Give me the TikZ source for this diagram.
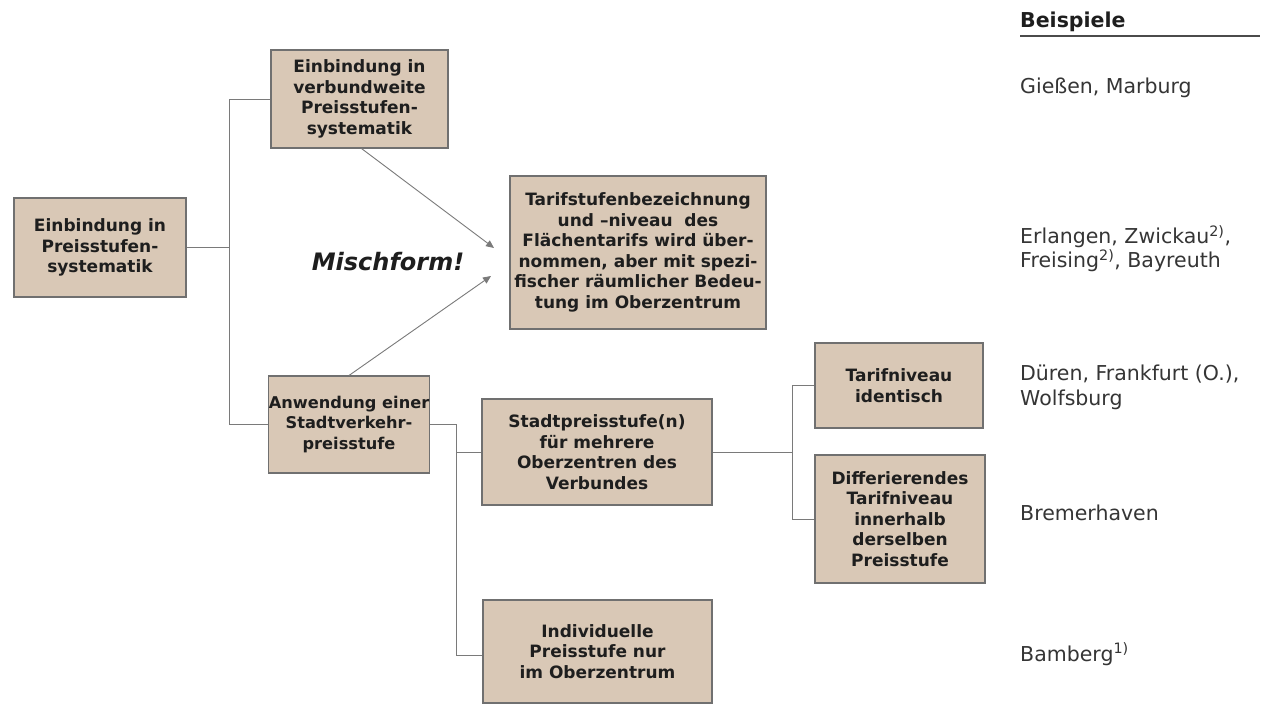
\documentclass[tikz,border=0pt]{standalone}
\usepackage{fontspec}
\setmainfont{DejaVu Sans}
\usetikzlibrary{arrows.meta,calc}
\definecolor{boxfill}{HTML}{D9C8B6}
\definecolor{boxline}{HTML}{707070}
\definecolor{conn}{HTML}{7A7A7A}
\definecolor{txt}{HTML}{1E1E1E}
\begin{document}
\begin{tikzpicture}[x=1pt,y=-1pt,
  box/.style={draw=boxline,line width=1.1pt,fill=boxfill,inner sep=0pt,align=center,
    text=txt,font=\bfseries\fontsize{17}{20.5}\selectfont},
  link/.style={draw=conn,line width=0.9pt},
  arr/.style={link,-{Triangle[length=8pt,width=7pt]}},
  ex/.style={anchor=base west,inner sep=0pt,text=txt!90,font=\fontsize{20.5}{23}\selectfont}]
\useasboundingbox[fill=white] (0,0) rectangle (1263,708);
% boxes
\node[box,minimum width=172pt,minimum height=99pt] (A) at (100,247.5) {Einbindung in\\Preisstufen-\\systematik};
\node[box,minimum width=177pt,minimum height=98pt] (B) at (359.5,99) {Einbindung in\\verbundweite\\Preisstufen-\\systematik};
\node[box,minimum width=256pt,minimum height=153pt] (C) at (638,252.5) {Tarifstufenbezeichnung\\und --niveau\ \ des\\Flächentarifs wird über-\\nommen, aber mit spezi-\\fischer räumlicher Bedeu-\\tung im Oberzentrum};
\node[box,minimum width=160pt,minimum height=97pt,font=\bfseries\fontsize{16.2}{20.5}\selectfont] (D) at (349,424.5) {Anwendung einer\\Stadtverkehr-\\preisstufe};
\node[box,minimum width=230pt,minimum height=106pt] (E) at (597,452) {Stadtpreisstufe(n)\\für mehrere\\Oberzentren des\\Verbundes};
\node[box,minimum width=229pt,minimum height=103pt] (F) at (597.5,651.5) {Individuelle\\Preisstufe nur\\im Oberzentrum};
\node[box,minimum width=168pt,minimum height=85pt] (G) at (899,385.5) {Tarifniveau\\identisch};
\node[box,minimum width=170pt,minimum height=128pt] (H) at (900,519) {Differierendes\\Tarifniveau\\innerhalb\\derselben\\Preisstufe};
% Mischform
\node[inner sep=0pt,text=txt,font=\bfseries\itshape\fontsize{24}{28}\selectfont] (M) at (388,262) {Mischform!};
% tree connectors
\coordinate (t1) at (229,0);
\draw[link] (A.east) -- (A.east -| t1);
\draw[link] (B.west) -- (B.west -| t1) -- (D.west -| t1) -- (D.west);
\coordinate (t2) at (456,0);
\coordinate (fc) at (F.west |- 0,655);
\draw[link] (D.east) -- (D.east -| t2) -- (fc -| t2) -- (fc);
\draw[link] (E.west -| t2) -- (E.west);
\coordinate (t3) at (792,0);
\draw[link] (E.east) -- (E.east -| t3);
\draw[link] (G.west) -- (G.west -| t3) -- (H.west -| t3) -- (H.west);
% arrows to C
\coordinate (m1) at (494,248);
\coordinate (m2) at (491,276);
\draw[arr] ($(B.south)+(2,0)$) -- (m1);
\draw[arr] (D.north) -- (m2);
% examples column
\node[ex,text=txt,font=\bfseries\fontsize{20.5}{23}\selectfont] (bsp) at (1020,28) {Beispiele};
\draw[draw=txt!80,line width=2pt] (1020,36) -- (1260,36);
\node[ex] (e1) at (1020,94) {Gießen, Marburg};
\node[ex] (e2a) at (1020,244) {Erlangen, Zwickau\textsuperscript{2)},};
\node[ex] (e2b) at (1020,268) {Freising\textsuperscript{2)}, Bayreuth};
\node[ex] (e3a) at (1020,380) {Düren, Frankfurt (O.),};
\node[ex] (e3b) at (1020,405) {Wolfsburg};
\node[ex] (e4) at (1020,520) {Bremerhaven};
\node[ex] (e5) at (1020,661) {Bamberg\textsuperscript{1)}};
\end{tikzpicture}
\end{document}
